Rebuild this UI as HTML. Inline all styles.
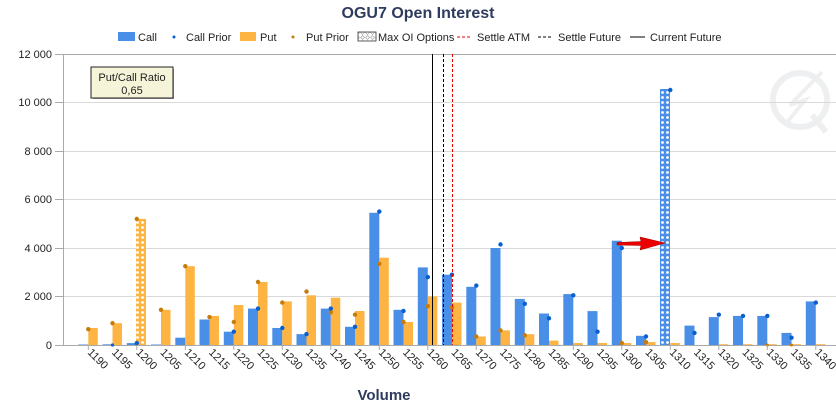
<!DOCTYPE html>
<html><head><meta charset="utf-8"><style>
body{margin:0;background:#fff}
svg{display:block;font-family:"Liberation Sans",sans-serif}
</style></head><body>
<svg width="836" height="405" viewBox="0 0 836 405" xmlns="http://www.w3.org/2000/svg">
<defs>
<pattern id="hb" x="0" y="0" width="5" height="5" patternUnits="userSpaceOnUse"><rect width="5" height="5" fill="#4a8fe7"/><circle cx="2.5" cy="2.5" r="1.4" fill="#fff"/></pattern>
<pattern id="ho" x="0" y="0" width="5" height="5" patternUnits="userSpaceOnUse"><rect width="5" height="5" fill="#fdb443"/><circle cx="2.5" cy="2.5" r="1.4" fill="#fff"/></pattern>
<pattern id="hg" width="5" height="5" patternUnits="userSpaceOnUse"><rect width="5" height="5" fill="#fff"/><path d="M2.5 0.6L4.4 2.5L2.5 4.4L0.6 2.5Z" fill="none" stroke="#999" stroke-width="0.6"/></pattern>
</defs>
<text x="418" y="18" text-anchor="middle" font-size="16" font-weight="bold" fill="#2e3b5e">OGU7 Open Interest</text>
<g font-size="11" fill="#222">
<rect x="118" y="32" width="17" height="9" fill="#4a8fe7"/><text x="138" y="41">Call</text>
<circle cx="174" cy="37" r="1.5" fill="#0a5fcf"/><text x="186" y="41">Call Prior</text>
<rect x="240" y="32" width="16" height="9" fill="#fdb443"/><text x="260" y="41">Put</text>
<circle cx="293" cy="37" r="1.5" fill="#c77b0a"/><text x="306" y="41">Put Prior</text>
<rect x="358" y="32" width="18" height="9" fill="url(#hg)" stroke="#333" stroke-width="0.8"/><text x="378" y="41">Max OI Options</text>
<line x1="457" y1="37" x2="472" y2="37" stroke="#e00" stroke-dasharray="3,2"/><text x="477" y="41">Settle ATM</text>
<line x1="538" y1="37" x2="553" y2="37" stroke="#000" stroke-dasharray="3,2"/><text x="558" y="41">Settle Future</text>
<line x1="630" y1="37" x2="645" y2="37" stroke="#000"/><text x="650" y="41">Current Future</text>
</g>
<g opacity="0.07" stroke="#234" fill="none" stroke-width="6"><circle cx="800" cy="100" r="27"/><line x1="812" y1="115" x2="826" y2="132"/><path d="M822 72L790 105L805 100L785 125" stroke-width="4"/></g>
<g stroke="#d9d9d9" stroke-width="1">
<line x1="63" y1="102.5" x2="836" y2="102.5"/><line x1="63" y1="151.5" x2="836" y2="151.5"/><line x1="63" y1="199.5" x2="836" y2="199.5"/><line x1="63" y1="248.5" x2="836" y2="248.5"/><line x1="63" y1="296.5" x2="836" y2="296.5"/>
</g>
<line x1="55" y1="54.5" x2="836" y2="54.5" stroke="#aaa"/>
<line x1="55" y1="345.5" x2="836" y2="345.5" stroke="#aaa"/>
<line x1="63.5" y1="54" x2="63.5" y2="345" stroke="#aaa"/>
<g stroke="#aaa"><line x1="55" y1="102.5" x2="63" y2="102.5"/><line x1="55" y1="151.5" x2="63" y2="151.5"/><line x1="55" y1="199.5" x2="63" y2="199.5"/><line x1="55" y1="248.5" x2="63" y2="248.5"/><line x1="55" y1="296.5" x2="63" y2="296.5"/></g>
<g font-size="11" fill="#222" text-anchor="end">
<text x="52" y="58">12 000</text><text x="52" y="106">10 000</text><text x="52" y="155">8 000</text><text x="52" y="203">6 000</text><text x="52" y="252">4 000</text><text x="52" y="300">2 000</text><text x="52" y="349">0</text>
</g>
<g fill="#4a8fe7">
<rect x="78.3" y="344.5" width="10" height="0.5"/>
<rect x="102.5" y="344.3" width="10" height="0.7"/>
<rect x="126.8" y="343.1" width="10" height="1.9"/>
<rect x="151" y="344.5" width="10" height="0.5"/>
<rect x="175.3" y="337.7" width="10" height="7.3"/>
<rect x="199.5" y="319.5" width="10" height="25.5"/>
<rect x="223.8" y="331.7" width="10" height="13.3"/>
<rect x="248" y="308.6" width="10" height="36.4"/>
<rect x="272.3" y="328" width="10" height="17"/>
<rect x="296.5" y="334.1" width="10" height="10.9"/>
<rect x="320.8" y="308.6" width="10" height="36.4"/>
<rect x="345" y="326.8" width="10" height="18.2"/>
<rect x="369.3" y="212.8" width="10" height="132.2"/>
<rect x="393.5" y="309.8" width="10" height="35.2"/>
<rect x="417.8" y="267.4" width="10" height="77.6"/>
<rect x="442" y="274.7" width="10" height="70.3"/>
<rect x="466.3" y="286.8" width="10" height="58.2"/>
<rect x="490.5" y="248" width="10" height="97"/>
<rect x="514.8" y="298.9" width="10" height="46.1"/>
<rect x="539" y="313.5" width="10" height="31.5"/>
<rect x="563.3" y="294.1" width="10" height="50.9"/>
<rect x="587.5" y="311.1" width="10" height="33.9"/>
<rect x="611.8" y="240.7" width="10" height="104.3"/>
<rect x="636" y="335.8" width="10" height="9.2"/>
<rect x="660" y="89" width="10" height="256" fill="url(#hb)"/>
<rect x="684.5" y="325.6" width="10" height="19.4"/>
<rect x="708.8" y="317.1" width="10" height="27.9"/>
<rect x="733" y="315.9" width="10" height="29.1"/>
<rect x="757.3" y="315.9" width="10" height="29.1"/>
<rect x="781.5" y="332.9" width="10" height="12.1"/>
<rect x="805.8" y="301.4" width="10" height="43.6"/>
</g>
<g fill="#fdb443">
<rect x="88.3" y="328" width="9.5" height="17"/>
<rect x="112.5" y="323.2" width="9.5" height="21.8"/>
<rect x="136" y="218.9" width="10" height="126.1" fill="url(#ho)"/>
<rect x="161" y="309.8" width="9.5" height="35.2"/>
<rect x="185.3" y="266.2" width="9.5" height="78.8"/>
<rect x="209.5" y="315.9" width="9.5" height="29.1"/>
<rect x="233.8" y="305" width="9.5" height="40"/>
<rect x="258" y="282" width="9.5" height="63"/>
<rect x="282.3" y="301.4" width="9.5" height="43.6"/>
<rect x="306.5" y="295.3" width="9.5" height="49.7"/>
<rect x="330.8" y="297.7" width="9.5" height="47.3"/>
<rect x="355" y="311" width="9.5" height="34"/>
<rect x="379.3" y="257.7" width="9.5" height="87.3"/>
<rect x="403.5" y="322" width="9.5" height="23"/>
<rect x="427.8" y="296.5" width="9.5" height="48.5"/>
<rect x="452" y="302.6" width="9.5" height="42.4"/>
<rect x="476.3" y="336.5" width="9.5" height="8.5"/>
<rect x="500.5" y="330.4" width="9.5" height="14.6"/>
<rect x="524.8" y="334.1" width="9.5" height="10.9"/>
<rect x="549" y="340.6" width="9.5" height="4.4"/>
<rect x="573.3" y="343" width="9.5" height="2"/>
<rect x="597.5" y="343" width="9.5" height="2"/>
<rect x="621.8" y="343" width="9.5" height="2"/>
<rect x="646" y="342.1" width="9.5" height="2.9"/>
<rect x="670.3" y="343" width="9.5" height="2"/>
<rect x="718.8" y="344.2" width="9.5" height="0.8"/>
<rect x="743" y="344.2" width="9.5" height="0.8"/>
<rect x="767.3" y="344.2" width="9.5" height="0.8"/>
<rect x="791.5" y="344.2" width="9.5" height="0.8"/>
<rect x="815.8" y="344.2" width="9.5" height="0.8"/>
</g>
<g fill="#c77b0a">
<circle cx="88.3" cy="329.2" r="2.2"/><circle cx="112.5" cy="323.2" r="2.2"/><circle cx="136.8" cy="218.9" r="2.2"/><circle cx="161" cy="309.8" r="2.2"/><circle cx="185.3" cy="266.2" r="2.2"/><circle cx="209.5" cy="317.1" r="2.2"/><circle cx="233.8" cy="322" r="2.2"/><circle cx="258" cy="282" r="2.2"/><circle cx="282.3" cy="302.6" r="2.2"/><circle cx="306.5" cy="291.6" r="2.2"/><circle cx="330.8" cy="312.3" r="2.2"/><circle cx="355" cy="314.7" r="2.2"/><circle cx="379.3" cy="263.8" r="2.2"/><circle cx="403.5" cy="322" r="2.2"/><circle cx="427.8" cy="306.2" r="2.2"/><circle cx="452" cy="307.4" r="2.2"/><circle cx="476.3" cy="336.5" r="2.2"/><circle cx="500.5" cy="330.4" r="2.2"/><circle cx="524.8" cy="335.3" r="2.2"/><circle cx="621.8" cy="343" r="2.2"/><circle cx="646" cy="342.1" r="2.2"/><circle cx="767.3" cy="345" r="1.5"/><circle cx="791.5" cy="345" r="1.5"/>
</g>
<g fill="#0a5fcf">
<circle cx="112.5" cy="345" r="1.6"/><circle cx="136.8" cy="343.1" r="2.2"/><circle cx="233.8" cy="331.7" r="2.2"/><circle cx="258" cy="308.6" r="2.2"/><circle cx="282.3" cy="328" r="2.2"/><circle cx="306.5" cy="334.1" r="2.2"/><circle cx="330.8" cy="308.6" r="2.2"/><circle cx="355" cy="326.8" r="2.2"/><circle cx="379.3" cy="211.6" r="2.2"/><circle cx="403.5" cy="311" r="2.2"/><circle cx="427.8" cy="277.1" r="2.2"/><circle cx="452" cy="274.7" r="2.2"/><circle cx="476.3" cy="285.6" r="2.2"/><circle cx="500.5" cy="244.4" r="2.2"/><circle cx="524.8" cy="303.8" r="2.2"/><circle cx="549" cy="318.3" r="2.2"/><circle cx="573.3" cy="295.3" r="2.2"/><circle cx="597.5" cy="331.7" r="2.2"/><circle cx="621.8" cy="248" r="2.2"/><circle cx="646" cy="336.5" r="2.2"/><circle cx="670.3" cy="90" r="2.2"/><circle cx="694.5" cy="332.9" r="2.2"/><circle cx="718.8" cy="314.7" r="2.2"/><circle cx="743" cy="315.9" r="2.2"/><circle cx="767.3" cy="315.9" r="2.2"/><circle cx="791.5" cy="337.7" r="2.2"/><circle cx="815.8" cy="302.6" r="2.2"/>
</g>
<line x1="432.5" y1="54" x2="432.5" y2="345" stroke="#000"/>
<line x1="443.5" y1="54" x2="443.5" y2="345" stroke="#000" stroke-dasharray="3,2"/>
<line x1="452.5" y1="54" x2="452.5" y2="345" stroke="#e00" stroke-dasharray="3,2"/>
<g stroke="#aaa"><line x1="88.3" y1="345" x2="88.3" y2="350"/><line x1="136.8" y1="345" x2="136.8" y2="350"/><line x1="185.3" y1="345" x2="185.3" y2="350"/><line x1="233.8" y1="345" x2="233.8" y2="350"/><line x1="282.3" y1="345" x2="282.3" y2="350"/><line x1="330.8" y1="345" x2="330.8" y2="350"/><line x1="379.3" y1="345" x2="379.3" y2="350"/><line x1="427.8" y1="345" x2="427.8" y2="350"/><line x1="476.3" y1="345" x2="476.3" y2="350"/><line x1="524.8" y1="345" x2="524.8" y2="350"/><line x1="573.3" y1="345" x2="573.3" y2="350"/><line x1="621.8" y1="345" x2="621.8" y2="350"/><line x1="670.3" y1="345" x2="670.3" y2="350"/><line x1="718.8" y1="345" x2="718.8" y2="350"/><line x1="767.3" y1="345" x2="767.3" y2="350"/><line x1="815.8" y1="345" x2="815.8" y2="350"/></g>
<path d="M617 242.5L641 241.5L640 237L665 243L640 250L641 245.5L617 245Z" fill="#e00" stroke="#900" stroke-width="0.5"/>
<g font-size="11" fill="#222">
<text transform="translate(87,353) rotate(45)">1190</text>
<text transform="translate(111.2,353) rotate(45)">1195</text>
<text transform="translate(135.5,353) rotate(45)">1200</text>
<text transform="translate(159.7,353) rotate(45)">1205</text>
<text transform="translate(184,353) rotate(45)">1210</text>
<text transform="translate(208.2,353) rotate(45)">1215</text>
<text transform="translate(232.5,353) rotate(45)">1220</text>
<text transform="translate(256.7,353) rotate(45)">1225</text>
<text transform="translate(281,353) rotate(45)">1230</text>
<text transform="translate(305.2,353) rotate(45)">1235</text>
<text transform="translate(329.5,353) rotate(45)">1240</text>
<text transform="translate(353.7,353) rotate(45)">1245</text>
<text transform="translate(378,353) rotate(45)">1250</text>
<text transform="translate(402.2,353) rotate(45)">1255</text>
<text transform="translate(426.5,353) rotate(45)">1260</text>
<text transform="translate(450.7,353) rotate(45)">1265</text>
<text transform="translate(475,353) rotate(45)">1270</text>
<text transform="translate(499.2,353) rotate(45)">1275</text>
<text transform="translate(523.5,353) rotate(45)">1280</text>
<text transform="translate(547.7,353) rotate(45)">1285</text>
<text transform="translate(572,353) rotate(45)">1290</text>
<text transform="translate(596.2,353) rotate(45)">1295</text>
<text transform="translate(620.5,353) rotate(45)">1300</text>
<text transform="translate(644.7,353) rotate(45)">1305</text>
<text transform="translate(669,353) rotate(45)">1310</text>
<text transform="translate(693.2,353) rotate(45)">1315</text>
<text transform="translate(717.5,353) rotate(45)">1320</text>
<text transform="translate(741.7,353) rotate(45)">1325</text>
<text transform="translate(766,353) rotate(45)">1330</text>
<text transform="translate(790.2,353) rotate(45)">1335</text>
<text transform="translate(814.5,353) rotate(45)">1340</text>
</g>
<text x="384" y="400" text-anchor="middle" font-size="15" font-weight="bold" fill="#2e3b5e">Volume</text>
<rect x="93" y="69" width="81" height="30" fill="#000" opacity="0.35"/>
<rect x="91" y="67" width="82" height="31" fill="#f6f4d8" stroke="#222" stroke-width="1"/>
<text x="132" y="81" text-anchor="middle" font-size="11" fill="#222">Put/Call Ratio</text>
<text x="132" y="94" text-anchor="middle" font-size="11" fill="#222">0,65</text>
</svg>
</body></html>
